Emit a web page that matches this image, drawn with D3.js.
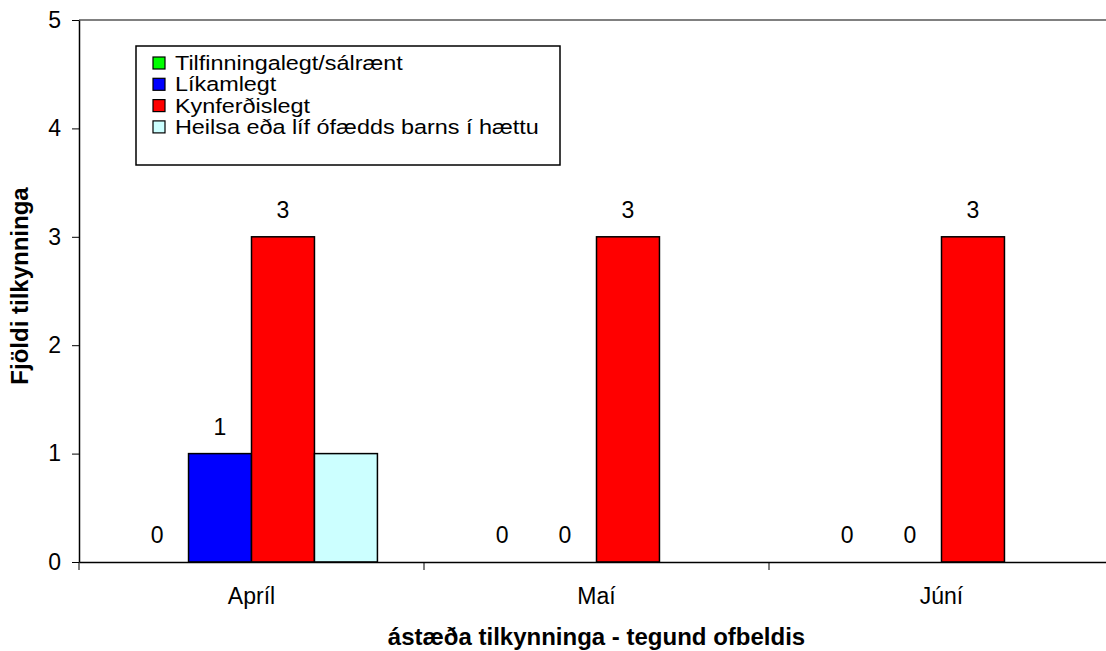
<!DOCTYPE html>
<html>
<head>
<meta charset="utf-8">
<script src="https://cdn.jsdelivr.net/npm/d3@7/dist/d3.min.js"></script>
<style>
  body { margin: 0; background: #fff; }
  svg { font-family: 'Liberation Sans', Arial, sans-serif; }
</style>
</head>
<body>
<div id="plot"></div>
<script>
'use strict';

const months = ['Apríl', 'Maí', 'Júní']
const series = ['Tilfinningalegt/sálrænt', 'Líkamlegt', 'Kynferðislegt', 'Heilsa eða líf ófædds barns í hættu']
const tilfinningalegt = [0, 0, 0]
const likamlegt = [1, 0, 0]
const kynferdislegt = [3, 3, 3]
const heilsa = [1, 0, 0]
const yTicks = [0, 1, 2, 3, 4, 5]
// which series show value labels
const labelled = [true, true, true, false]

let col = ['#00ff00', '#0000ff', '#ff0000', '#ccffff']
let values = [tilfinningalegt, likamlegt, kynferdislegt, heilsa]
let font = "'Liberation Sans', Arial, sans-serif"

let width = 1106
let height = 651
let mLeft = 79
let mTop = 20
let mBottom = 562
let band = 345

let svg = d3.select('#plot').append('svg')
  .attr('width', width)
  .attr('height', height)

let x0 = d3.scaleBand()
  .domain(months)
  .range([mLeft, mLeft + band * months.length])
  .padding(0)
let x1 = d3.scaleBand()
  .domain(series)
  .range([x0.bandwidth() * 0.135, x0.bandwidth() * 0.865])
let y = d3.scaleLinear()
  .domain([0, 5])
  .range([mBottom, mTop])

// top border of plot area
svg.append('line')
  .attr('x1', mLeft).attr('x2', width)
  .attr('y1', mTop).attr('y2', mTop)
  .attr('stroke', '#808080')
  .attr('stroke-width', 2)

let data = []
months.forEach((m, i) => {
  series.forEach((s, j) => {
    data.push({month: m, series: s, j: j, value: values[j][i]})
  })
})

svg.append('g')
  .selectAll('rect')
  .data(data.filter(d => d.value > 0))
  .enter()
  .append('rect')
  .attr('x', d => x0(d.month) + x1(d.series))
  .attr('y', d => y(d.value))
  .attr('width', x1.bandwidth())
  .attr('height', d => y(0) - y(d.value))
  .attr('fill', d => col[d.j])
  .attr('stroke', '#000')
  .attr('stroke-width', 1.5)

svg.append('g')
  .selectAll('text')
  .data(data.filter(d => labelled[d.j]))
  .enter()
  .append('text')
  .attr('x', d => x0(d.month) + x1(d.series) + x1.bandwidth() / 2)
  .attr('y', d => y(d.value) - 19)
  .attr('text-anchor', 'middle')
  .attr('font-size', '23px')
  .text(d => d.value)

let x_axis = d3.axisBottom(x0)
  .tickSize(0)
  .tickPadding(26)
let xg = svg.append('g')
  .attr('transform', `translate(0, ${mBottom})`)
  .call(x_axis)
xg.select('.domain').attr('stroke', '#000').attr('stroke-width', 1.5)
xg.selectAll('text').attr('font-size', '23px').attr('fill', '#000')
  .attr('font-family', font)
// category boundary ticks
xg.selectAll('.sep')
  .data(months.concat(['end']))
  .enter()
  .append('line')
  .attr('x1', (d, i) => x0.range()[0] + i * x0.step())
  .attr('x2', (d, i) => x0.range()[0] + i * x0.step())
  .attr('y1', 0)
  .attr('y2', 8)
  .attr('stroke', '#000')

let y_axis = d3.axisLeft(y)
  .tickValues(yTicks)
  .tickFormat(d3.format('d'))
  .tickSize(7)
  .tickPadding(11)
  .tickSizeOuter(0)
let yg = svg.append('g')
  .attr('transform', `translate(${mLeft}, 0)`)
  .call(y_axis)
yg.select('.domain').attr('stroke', '#000').attr('stroke-width', 1.5)
yg.selectAll('text').attr('font-size', '23px').attr('fill', '#000')
  .attr('font-family', font)

svg.append('text')
  .attr('x', x0.range()[0] + (x0.range()[1] - x0.range()[0]) / 2)
  .attr('y', 645)
  .attr('text-anchor', 'middle')
  .attr('font-size', '24px')
  .attr('font-weight', 'bold')
  .text('ástæða tilkynninga - tegund ofbeldis')

svg.append('text')
  .attr('transform', 'translate(28, 286) rotate(-90)')
  .attr('text-anchor', 'middle')
  .attr('font-size', '24px')
  .attr('font-weight', 'bold')
  .text('Fjöldi tilkynninga')

// legend
let stretch = 1.2
let legend = svg.append('g')
legend.append('rect')
  .attr('x', 136)
  .attr('y', 46)
  .attr('width', 424)
  .attr('height', 119)
  .attr('fill', '#fff')
  .attr('stroke', '#000')
  .attr('stroke-width', 1.5)
let item = legend.selectAll('g.item')
  .data(series)
  .enter()
  .append('g')
  .attr('transform', (d, i) => `translate(153, ${63 + i * 21.3})`)
item.append('rect')
  .attr('x', 0)
  .attr('y', -6)
  .attr('width', 12)
  .attr('height', 12)
  .attr('fill', (d, i) => col[i])
  .attr('stroke', '#000')
  .attr('stroke-width', 1.2)
item.append('text')
  .attr('x', 22 / stretch)
  .attr('y', 7)
  .attr('transform', `scale(${stretch}, 1)`)
  .attr('font-size', '19.5px')
  .text(d => d)
</script>
</body>
</html>
